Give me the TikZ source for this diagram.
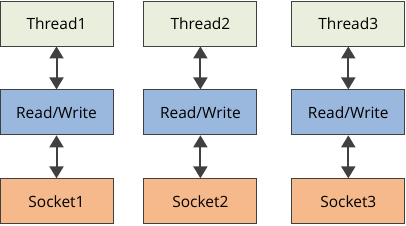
\documentclass[tikz,border=0pt]{standalone}
\usepackage{tikz}
\usetikzlibrary{arrows.meta,positioning}
\usepackage{fontspec}
\setmainfont{Open Sans}
\definecolor{ThreadFill}{RGB}{234,239,221}
\definecolor{RwFill}{RGB}{154,184,222}
\definecolor{SockFill}{RGB}{246,185,140}
\definecolor{EdgeGray}{RGB}{64,64,64}
\tikzset{
  layerbox/.style={draw=EdgeGray,line width=0.9pt,minimum width=113pt,
    minimum height=45pt,inner sep=0pt,align=center,font=\fontsize{15.5}{18}\selectfont},
  threadbox/.style={layerbox,fill=ThreadFill},
  rwbox/.style={layerbox,fill=RwFill},
  sockbox/.style={layerbox,fill=SockFill},
  linkarrow/.style={{Triangle[length=12pt,width=14pt]}-{Triangle[length=12pt,width=14pt]},
    line width=2pt,draw=EdgeGray},
}
\begin{document}
\begin{tikzpicture}[node distance=43pt]
  \useasboundingbox (0,0) rectangle (406pt,-225pt);
  \node[threadbox] (t1) at (56.5pt,-23.5pt) {Thread1};
  \node[threadbox,right=30pt of t1] (t2) {Thread2};
  \node[threadbox,right=34pt of t2] (t3) {Thread3};
  \node[rwbox,below=of t1] (rw1) {Read/Write};
  \node[rwbox,below=of t2] (rw2) {Read/Write};
  \node[rwbox,below=of t3] (rw3) {Read/Write};
  \node[sockbox,below=of rw1] (s1) {Socket1};
  \node[sockbox,below=of rw2] (s2) {Socket2};
  \node[sockbox,below=of rw3] (s3) {Socket3};
  \foreach \i in {1,2,3}{
    \draw[linkarrow] (t\i) -- (rw\i);
    \draw[linkarrow] (rw\i) -- (s\i);
  }
\end{tikzpicture}
\end{document}
